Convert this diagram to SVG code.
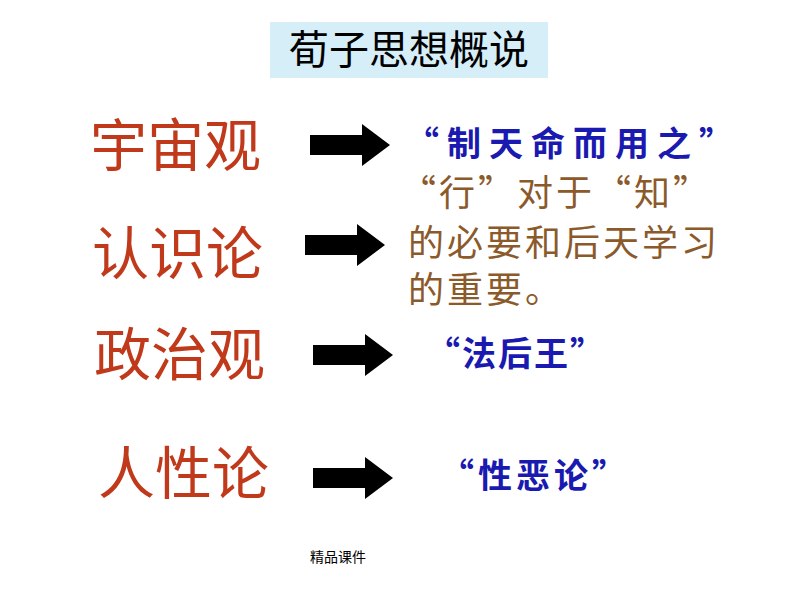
<svg xmlns="http://www.w3.org/2000/svg" width="794" height="596" viewBox="0 0 794 596">
<style>
.l{font-family:"Noto Sans CJK SC",sans-serif;font-size:57px;fill:#C0391B}
.b{font-family:"Noto Sans CJK SC",sans-serif;font-size:34px;fill:#1A1AB0;font-weight:bold;letter-spacing:8px}
.br{font-family:"Noto Sans CJK SC",sans-serif;font-size:36px;fill:#8B5A2B;letter-spacing:3px}
</style>
<defs><path id="ar" d="M0,-10 H52 V-21 L80,0 L52,21 V10 H0 Z" fill="#000"/></defs>
<rect width="794" height="596" fill="#fff"/>
<g id="title"><rect x="270" y="22" width="278" height="56" fill="#D6EEF8"/>
<text x="409" y="64" text-anchor="middle" font-family="Noto Sans CJK SC,sans-serif" font-size="40">荀子思想概说</text></g>
<g id="n1"><text class="l" x="90" y="166">宇宙观</text></g>
<g id="n2"><text class="l" x="92" y="274">认识论</text></g>
<g id="n3"><text class="l" x="94" y="375">政治观</text></g>
<g id="n4"><text class="l" x="98" y="494">人性论</text></g>
<g id="connectors">
<use href="#ar" x="310" y="145"/>
<use href="#ar" x="305" y="245"/>
<use href="#ar" x="313" y="355"/>
<use href="#ar" x="313" y="478"/>
</g>
<g id="r1"><text class="b" x="405" y="156">“制天命而用之”</text></g>
<g id="r2"><text class="br" x="400" y="206">“行”对于“知”</text>
<text class="br" x="408" y="256">的必要和后天学习</text>
<text class="br" x="408" y="303">的重要。</text></g>
<g id="r3"><text class="b" x="426" y="366" style="letter-spacing:2px">“法后王”</text></g>
<g id="r4"><text class="b" x="440" y="488" style="letter-spacing:4px">“性恶论”</text></g>
<text x="310" y="562" font-family="Noto Sans CJK SC,sans-serif" font-size="14">精品课件</text>
</svg>
